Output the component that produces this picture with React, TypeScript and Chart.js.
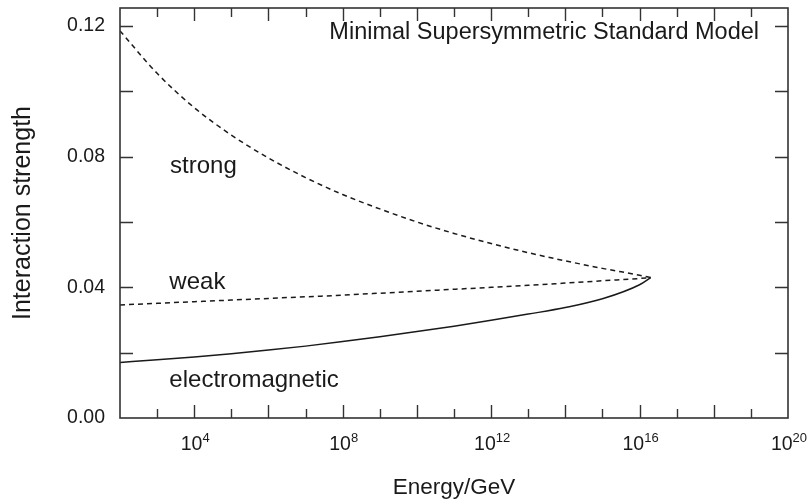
import React, { useEffect, useRef } from 'react';
import { Chart, registerables } from 'chart.js';

Chart.register(...registerables);

// Energy in GeV (one point per decade, plus the unification point)
const energyGeV = [1e2, 1e3, 1e4, 1e5, 1e6, 1e7, 1e8, 1e9, 1e10, 1e11, 1e12, 1e13, 1e14, 1e15, 1e16, 2e16];

// Coupling strengths
const strong = [0.1185, 0.1055, 0.0950, 0.0866, 0.0796, 0.0736, 0.0684, 0.0640, 0.0600, 0.0565, 0.0534, 0.0506, 0.0481, 0.0458, 0.0437, 0.0430];
const weak = [0.0346, 0.0351, 0.0356, 0.0361, 0.0366, 0.0371, 0.0376, 0.0382, 0.0388, 0.0394, 0.0400, 0.0406, 0.0413, 0.0420, 0.0427, 0.0430];
const electromagnetic = [0.0170, 0.0178, 0.0187, 0.0197, 0.0208, 0.0220, 0.0234, 0.0249, 0.0265, 0.0281, 0.0299, 0.0318, 0.0338, 0.0365, 0.0408, 0.0430];

// Axis ticks
const xTickExponents = [2, 3, 4, 5, 6, 7, 8, 9, 10, 11, 12, 13, 14, 15, 16, 17, 18, 19, 20];
const xLabeledExponents = [4, 8, 12, 16, 20];
const yTickValues = [0, 0.02, 0.04, 0.06, 0.08, 0.1, 0.12];
const yLabeledValues = [0, 0.04, 0.08, 0.12];

const chartTitle = 'Minimal Supersymmetric Standard Model';
const xTitle = 'Energy/GeV';
const yTitle = 'Interaction strength';
const seriesNames = ['strong', 'weak', 'electromagnetic'];

const FONT = '"Liberation Sans", Arial, sans-serif';
const INK = '#1a1a1a';

const framePlugin = {
  id: 'frameAndLabels',
  afterDraw(chart: any) {
    const { ctx, chartArea } = chart;
    const { left, right, top, bottom } = chartArea;
    const xs = chart.scales.x;
    const ys = chart.scales.y;
    ctx.save();
    ctx.strokeStyle = '#333';
    ctx.lineWidth = 1.6;
    ctx.strokeRect(left, top, right - left, bottom - top);
    ctx.lineWidth = 1.4;
    ctx.beginPath();
    for (const e of xTickExponents) {
      if (e === 2 || e === 20) continue;
      const px = Math.round(xs.getPixelForValue(Math.pow(10, e))) + 0.5;
      const len = e % 2 === 0 ? 13 : 9;
      ctx.moveTo(px, bottom);
      ctx.lineTo(px, bottom - len);
      ctx.moveTo(px, top);
      ctx.lineTo(px, top + len);
    }
    for (const v of yTickValues) {
      const py = Math.round(ys.getPixelForValue(v)) + 0.5;
      if (Math.abs(py - bottom) < 2) continue;
      ctx.moveTo(left, py);
      ctx.lineTo(left + 13, py);
      ctx.moveTo(right, py);
      ctx.lineTo(right - 13, py);
    }
    ctx.stroke();

    // x tick labels: 10 with superscript exponent
    ctx.fillStyle = INK;
    ctx.textBaseline = 'alphabetic';
    ctx.textAlign = 'left';
    const baseFont = `19.5px ${FONT}`;
    const expFont = `13px ${FONT}`;
    for (const e of xLabeledExponents) {
      const px = xs.getPixelForValue(Math.pow(10, e));
      ctx.font = baseFont;
      const wb = ctx.measureText('10').width;
      ctx.font = expFont;
      const we = ctx.measureText(String(e)).width;
      const x0 = px + 1 - (wb + we) / 2;
      ctx.font = baseFont;
      ctx.fillText('10', x0, bottom + 32);
      ctx.font = expFont;
      ctx.fillText(String(e), x0 + wb, bottom + 24);
    }

    ctx.font = `23.5px ${FONT}`;
    ctx.textAlign = 'center';
    ctx.fillText(chartTitle, xs.getPixelForValue(Math.pow(10, 13.43)), ys.getPixelForValue(0.1159));
    ctx.font = `24px ${FONT}`;
    ctx.textAlign = 'left';
    ctx.fillText(seriesNames[0], xs.getPixelForValue(Math.pow(10, 3.35)), ys.getPixelForValue(0.075));
    ctx.fillText(seriesNames[1], xs.getPixelForValue(Math.pow(10, 3.33)), ys.getPixelForValue(0.0395));
    ctx.fillText(seriesNames[2], xs.getPixelForValue(Math.pow(10, 3.33)), ys.getPixelForValue(0.0096));
    ctx.restore();
  },
};

const zeroPad = (scale: any) => {
  scale.paddingLeft = 0;
  scale.paddingRight = 0;
  scale.paddingTop = 0;
  scale.paddingBottom = 0;
};

export default function App() {
  const ref = useRef<HTMLCanvasElement | null>(null);

  useEffect(() => {
    if (!ref.current) return;
    const mk = (vals: number[]) => energyGeV.map((x, i) => ({ x, y: vals[i] }));
    const lineBase = {
      borderColor: INK,
      borderWidth: 1.5,
      pointRadius: 0,
      tension: 0.4,
      cubicInterpolationMode: 'monotone' as const,
      fill: false,
    };
    const chart = new Chart(ref.current, {
      type: 'line',
      data: {
        datasets: [
          { ...lineBase, label: seriesNames[0], data: mk(strong), borderDash: [5, 4] },
          { ...lineBase, label: seriesNames[1], data: mk(weak), borderDash: [5, 4] },
          { ...lineBase, label: seriesNames[2], data: mk(electromagnetic) },
        ],
      },
      options: {
        responsive: false,
        animation: false,
        layout: { padding: { top: 8, right: 24, left: 0, bottom: 0 } },
        plugins: { legend: { display: false }, tooltip: { enabled: false } },
        scales: {
          x: {
            type: 'logarithmic',
            min: 1e2,
            max: 1e20,
            grid: { display: false, drawTicks: false },
            border: { display: false },
            afterBuildTicks: (scale: any) => {
              scale.ticks = xTickExponents.map((e) => ({ value: Math.pow(10, e) }));
            },
            afterFit: (scale: any) => {
              scale.height = 86;
              zeroPad(scale);
            },
            ticks: {
              autoSkip: false,
              maxRotation: 0,
              padding: 12,
              color: INK,
              font: { family: FONT, size: 19.5 },
              callback: () => '',
            },
            title: {
              display: true,
              text: xTitle,
              color: INK,
              font: { family: FONT, size: 22.5 },
              padding: { top: 0, bottom: 3 },
            },
          },
          y: {
            type: 'linear',
            min: 0,
            max: 0.1255,
            grid: { display: false, drawTicks: false },
            border: { display: false },
            afterBuildTicks: (scale: any) => {
              scale.ticks = yTickValues.map((v) => ({ value: v }));
            },
            afterFit: (scale: any) => {
              scale.width = 120;
              zeroPad(scale);
            },
            ticks: {
              autoSkip: false,
              padding: 15,
              color: INK,
              font: { family: FONT, size: 19.5 },
              callback: (value: any) => {
                const v = Number(value);
                return yLabeledValues.some((l) => Math.abs(l - v) < 1e-9) ? v.toFixed(2) : '';
              },
            },
            title: {
              display: true,
              text: yTitle,
              color: INK,
              font: { family: FONT, size: 25 },
              padding: { top: 8, bottom: 0 },
            },
          },
        },
      },
      plugins: [framePlugin],
    });
    return () => chart.destroy();
  }, []);

  return (
    <div style={{ position: 'absolute', left: 0, top: 0, width: 812, height: 504, background: '#fff' }}>
      <canvas ref={ref} width={812} height={504} style={{ display: 'block' }} />
    </div>
  );
}
